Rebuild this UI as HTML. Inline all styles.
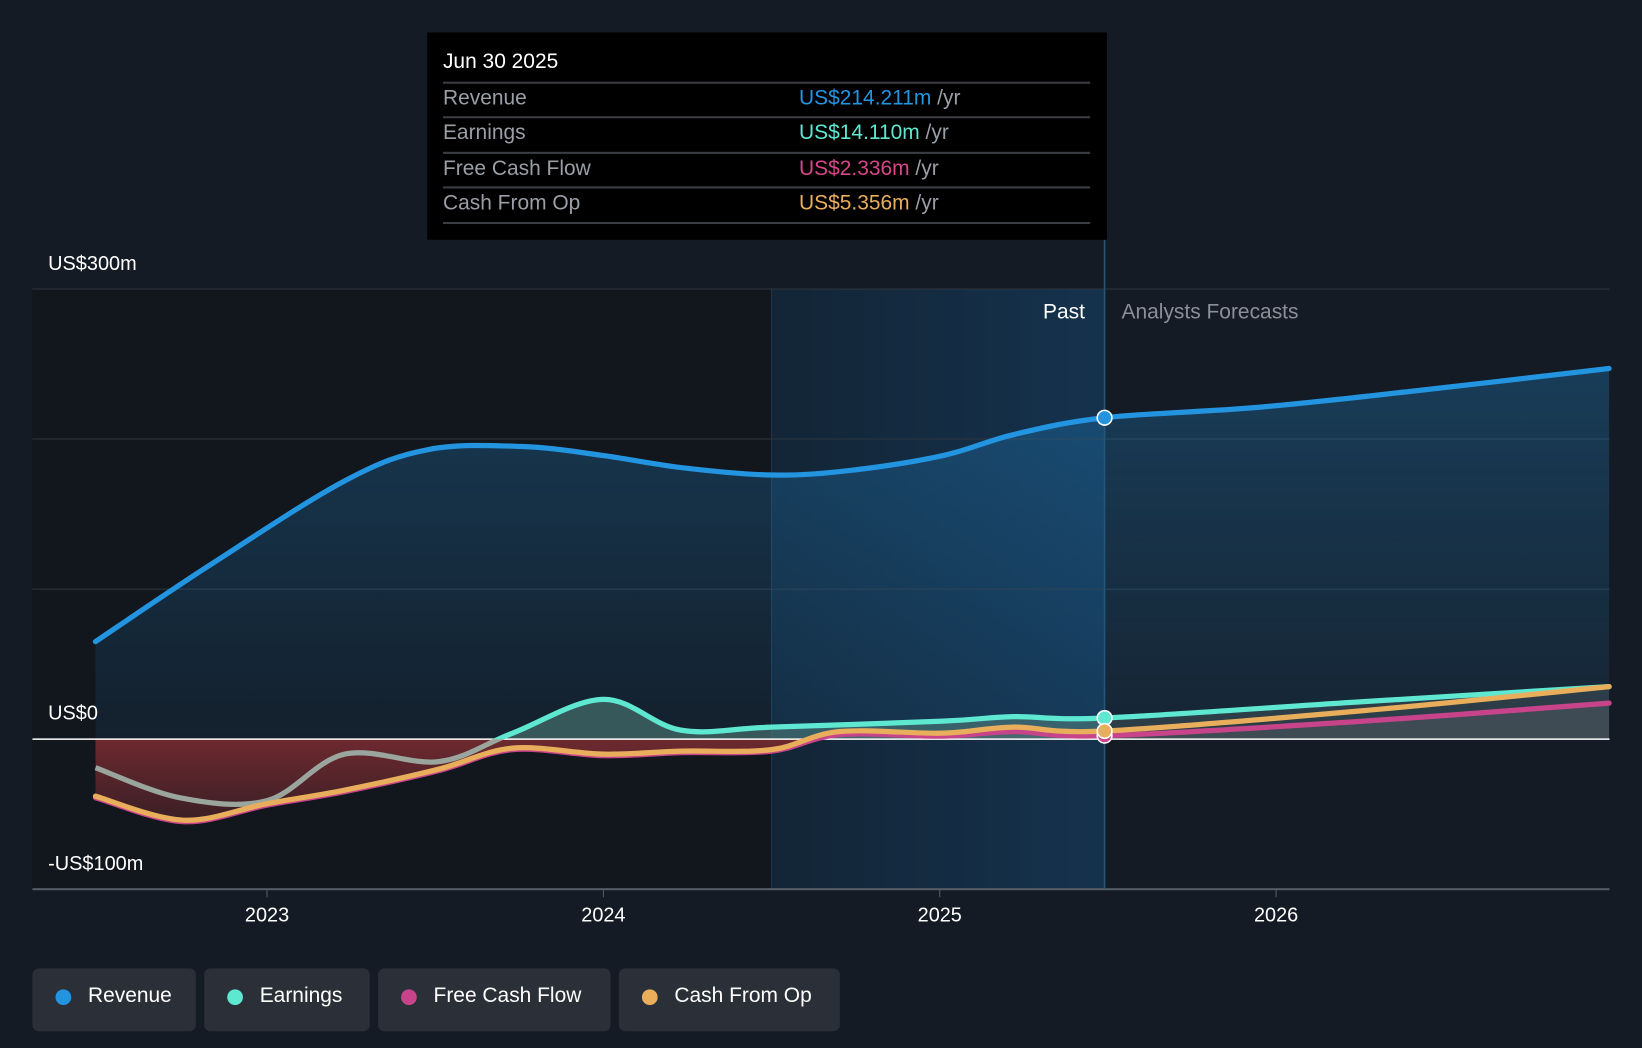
<!DOCTYPE html>
<html><head><meta charset="utf-8"><style>
html,body{margin:0;padding:0;background:#151b24;width:1642px;height:1048px;overflow:hidden;font-family:"Liberation Sans",sans-serif;}
#wrap{position:absolute;left:0;top:0;width:1568px;height:1001px;transform:scale(1.04719,1.04695);transform-origin:0 0;}
.lbl{position:absolute;color:#fff;font-size:19px;}
.tip{position:absolute;left:408px;top:31px;width:649px;height:198px;background:#000;}
.tip .t{position:absolute;left:15px;top:17px;color:#fff;font-size:20px;}
.row{position:absolute;left:15px;width:618px;height:33px;border-top:2px solid #3a3d42;font-size:20px;color:#9a9ea6;}
.row span.n{position:absolute;left:0;top:3px}
.row span.v{position:absolute;left:340px;top:3px}
.leg{position:absolute;top:925px;height:60px;background:#2a2f38;border-radius:6px;color:#fff;font-size:20px;}
.leg i{position:absolute;left:22px;top:20px;width:15px;height:15px;border-radius:50%;}
.leg span{position:absolute;left:53px;top:15px;}
</style></head><body>
<div id="wrap">
<svg id="chart" width="1568" height="1001" style="position:absolute;left:0;top:0"></svg>
<div class="lbl" style="left:46px;top:242px">US$300m</div>
<div class="lbl" style="left:46px;top:671px">US$0</div>
<div class="lbl" style="left:46px;top:815px">-US$100m</div>
<div class="lbl" style="left:996px;top:287px;font-size:20px">Past</div>
<div class="lbl" style="left:1071px;top:287px;font-size:20px;color:#8a8f98">Analysts Forecasts</div>
<div class="tip">
<div class="t">Jun 30 2025</div>
<div class="row" style="top:47px"><span class="n">Revenue</span><span class="v"><b style="font-weight:normal;color:#2394e0">US$214.211m</b> /yr</span></div>
<div class="row" style="top:80px"><span class="n">Earnings</span><span class="v"><b style="font-weight:normal;color:#5ee8d2">US$14.110m</b> /yr</span></div>
<div class="row" style="top:114px"><span class="n">Free Cash Flow</span><span class="v"><b style="font-weight:normal;color:#d6478a">US$2.336m</b> /yr</span></div>
<div class="row" style="top:147px"><span class="n">Cash From Op</span><span class="v"><b style="font-weight:normal;color:#e9ae5c">US$5.356m</b> /yr</span></div>
<div class="row" style="top:181px;height:0"></div>
</div>
<div class="leg" style="left:31px;width:156px"><i style="background:#2394e0"></i><span>Revenue</span></div>
<div class="leg" style="left:195px;width:158px"><i style="background:#5ee8d2"></i><span>Earnings</span></div>
<div class="leg" style="left:361px;width:222px"><i style="background:#c8448a"></i><span>Free Cash Flow</span></div>
<div class="leg" style="left:591px;width:211px"><i style="background:#e9ae5c"></i><span>Cash From Op</span></div>
</div>
<script>
const revDates=[2022.49,2022.83,2023.23,2023.48,2023.76,2024.0,2024.23,2024.5,2024.73,2025.01,2025.22,2025.49,2025.94,2026.41,2026.99];
const revVals=[65,116,172,193,195,189,181,176,179,189,203,214.2,221,232,247];
const earnDates=[2022.49,2022.74,2023.0,2023.23,2023.51,2023.73,2024.0,2024.23,2024.5,2025.01,2025.22,2025.49,2026.26,2026.99];
const earnVals=[-19,-39,-41,-10,-15,4,26.5,6,8,12,15,14.1,25,35];
const cfoDates=[2022.49,2022.75,2023.0,2023.23,2023.51,2023.73,2024.0,2024.23,2024.5,2024.7,2025.01,2025.22,2025.49,2026.26,2026.99];
const cfoVals=[-38,-54,-43,-34,-20,-6,-10,-8,-7,5,4,8,5.4,19,35];
const fcfDates=[2022.49,2022.75,2023.0,2023.23,2023.51,2023.73,2024.0,2024.23,2024.5,2024.7,2025.01,2025.22,2025.49,2026.26,2026.99];
const fcfVals=[-39,-55,-44,-35,-21,-7,-11,-9,-8,3,2,5,2.3,12,24];
const yearTicks=[2023,2024,2025,2026];
const yTicks=[300,200,100,0,-100];

const NS='http://www.w3.org/2000/svg';
const svg=document.getElementById('chart');
const X=d=>255+(d-2023)*321.2;
const Y=v=>706-v*1.4333;
function mk(tag,attrs,parent){const e=document.createElementNS(NS,tag);for(const k in attrs)e.setAttribute(k,attrs[k]);(parent||svg).appendChild(e);return e;}
function pathD(ds,vs){const p=ds.map((d,i)=>[X(d),Y(vs[i])]);let s='M'+p[0][0]+','+p[0][1];
for(let i=0;i<p.length-1;i++){const p0=p[Math.max(0,i-1)],p1=p[i],p2=p[i+1],p3=p[Math.min(p.length-1,i+2)];
const c1=[p1[0]+(p2[0]-p0[0])/6,p1[1]+(p2[1]-p0[1])/6],c2=[p2[0]-(p3[0]-p1[0])/6,p2[1]-(p3[1]-p1[1])/6];
s+=` C${c1[0]},${c1[1]} ${c2[0]},${c2[1]} ${p2[0]},${p2[1]}`;}return s;}
const defs=mk('defs',{});
defs.innerHTML=`<linearGradient id="hl" x1="0" x2="1" y1="0" y2="0"><stop offset="0" stop-color="#132536"/><stop offset="1" stop-color="#15324d"/></linearGradient>
<linearGradient id="rf" x1="0" x2="0" y1="0" y2="1"><stop offset="0" stop-color="#2394e0" stop-opacity="0.28"/><stop offset="1" stop-color="#2394e0" stop-opacity="0.08"/></linearGradient>
<linearGradient id="neg" x1="0" x2="0" y1="0" y2="1"><stop offset="0" stop-color="#8e3035"/><stop offset="1" stop-color="#3a1f25"/></linearGradient>
<clipPath id="above"><rect x="0" y="0" width="1568" height="${Y(0)}"/></clipPath>
<clipPath id="abovePast"><rect x="0" y="0" width="${X(2025.49)}" height="${Y(0)}"/></clipPath>
<clipPath id="below"><rect x="0" y="${Y(0)}" width="1568" height="400"/></clipPath>`;
mk('rect',{x:31,y:276,width:X(2024.5)-31,height:573,fill:'#12161d',});
mk('rect',{x:X(2024.5),y:276,width:X(2025.49)-X(2024.5),height:573,fill:'url(#hl)',});
mk('line',{x1:X(2024.5),x2:X(2024.5),y1:276,y2:849,stroke:'#1d3850','stroke-width':1});
yTicks.forEach(t=>{const g=mk('line',{x1:31,x2:1537,y1:Y(t),y2:Y(t),stroke:t===-100?'#555b63':'#2e3640','stroke-width':t===-100?2:1});
});
const last=a=>a[a.length-1];
const ra=mk('path',{d:pathD(revDates,revVals)+` L${X(last(revDates))},${Y(0)} L${X(revDates[0])},${Y(0)} Z`,fill:'url(#rf)'});

const ea=pathD(earnDates,earnVals)+` L${X(last(earnDates))},${Y(0)} L${X(earnDates[0])},${Y(0)} Z`;
mk('path',{d:ea,fill:'#4fb8a8','fill-opacity':0.3,'clip-path':'url(#abovePast)'});
mk('path',{d:pathD(earnDates,earnVals)+` L${X(last(earnDates))},${Y(0)} L${X(2025.49)},${Y(0)} Z`,fill:'#5a6a6a','fill-opacity':0.35,'clip-path':'url(#above)'});
const ca=pathD(cfoDates,cfoVals)+` L${X(last(cfoDates))},${Y(0)} L${X(cfoDates[0])},${Y(0)} Z`;
mk('path',{d:ca,fill:'url(#neg)','clip-path':'url(#below)',});
mk('path',{d:pathD(fcfDates,fcfVals)+` L${X(last(fcfDates))},${Y(0)} L${X(2025.49)},${Y(0)} Z`,fill:'#888','fill-opacity':0.2,'clip-path':'url(#above)'});
mk('line',{x1:31,x2:1537,y1:Y(0),y2:Y(0),stroke:'#fff','stroke-width':1.5,});
mk('line',{x1:X(2025.49),x2:X(2025.49),y1:229,y2:849,stroke:'#24557a','stroke-width':1.5,});
function line(ds,vs,col,name,negCol){const d=pathD(ds,vs);
const l=mk('path',{d:d,fill:'none',stroke:col,'stroke-width':5,'stroke-linecap':'round','clip-path':negCol?'url(#above)':''});

if(negCol)mk('path',{d:d,fill:'none',stroke:negCol,'stroke-width':5,'clip-path':'url(#below)'});}
line(revDates,revVals,'#2394e0','revenue-line');
line(fcfDates,fcfVals,'#c8448a','fcf-line');
line(earnDates,earnVals,'#5ee8d2','earnings-line','#9aa59e');
line(cfoDates,cfoVals,'#e9ae5c','cfo-line');
[[fcfVals,fcfDates,'#c8448a'],[earnVals,earnDates,'#5ee8d2'],[cfoVals,cfoDates,'#e9ae5c'],[revVals,revDates,'#2394e0']].forEach(([v,d,c])=>{
const i=d.indexOf(2025.49);const m=mk('circle',{cx:X(d[i]),cy:Y(v[i]),r:7,fill:c,stroke:'#fff','stroke-width':1.5});
});
yearTicks.forEach(y=>{mk('line',{x1:X(y),x2:X(y),y1:849,y2:857,stroke:'#555b63'});
const t=mk('text',{x:X(y),y:880,fill:'#fff','font-size':19,'text-anchor':'middle','font-family':'Liberation Sans, sans-serif'});
t.textContent=y;});
</script>
</body></html>
